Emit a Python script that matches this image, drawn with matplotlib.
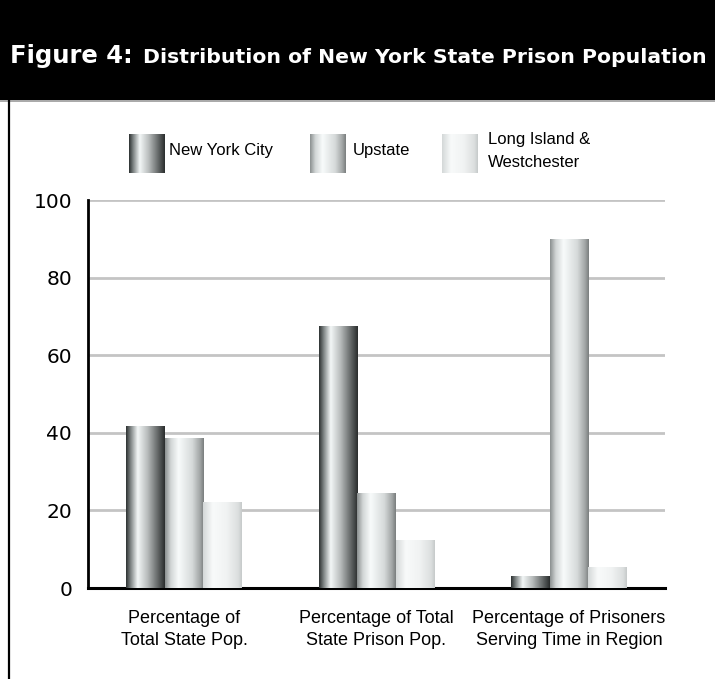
"""
Figure 4: distribution of the New York State prison population.
"""
import numpy as np
import matplotlib
matplotlib.use('Agg')
import matplotlib.pyplot as plt
from matplotlib.colors import LinearSegmentedColormap
from matplotlib.patches import Rectangle
from matplotlib.lines import Line2D

categories = ['Percentage of\nTotal State Pop.',
              'Percentage of Total\nState Prison Pop.',
              'Percentage of Prisoners\nServing Time in Region']
series = ['New York City', 'Upstate', 'Long Island &\nWestchester']
nyc = [41.8, 67.5, 3.2]
upstate = [38.7, 24.5, 90.0]
long_island = [22.2, 12.4, 5.5]
yticks = [0, 20, 40, 60, 80, 100]

# cylinder-like shading for each series, left edge -> right edge
shades = [
    [(0.0, '#2c3131'), (0.12, '#7f8585'), (0.3, '#f3f7f7'), (0.55, '#b9bdbd'),
     (0.8, '#696d6d'), (1.0, '#2a2d2d')],
    [(0.0, '#8a8f8f'), (0.15, '#d2d6d6'), (0.35, '#f8fbfb'), (0.7, '#d6dada'),
     (0.9, '#a2a6a6'), (1.0, '#7a7e7e')],
    [(0.0, '#d4d8d8'), (0.25, '#f8fafa'), (0.6, '#f1f3f3'), (0.9, '#dcdfdf'),
     (1.0, '#c6caca')],
]
cmaps = [LinearSegmentedColormap.from_list('s%d' % i, s) for i, s in enumerate(shades)]
grad = np.linspace(0, 1, 256).reshape(1, -1)

W, H = 715, 679
fig = plt.figure(figsize=(W / 100, H / 100), dpi=100)
plt.rcParams['font.family'] = ['Liberation Sans', 'DejaVu Sans']

# header band
fig.patches.append(Rectangle((0, 1 - 100 / H), 1, 100 / H, transform=fig.transFigure,
                             facecolor='black', edgecolor='none', zorder=0))
fig.lines.append(Line2D([0, 1], [1 - 101 / H] * 2, transform=fig.transFigure,
                        color='#9a9a9a', lw=1.2))
fig.lines.append(Line2D([9 / W, 9 / W], [0, 1 - 101 / H], transform=fig.transFigure,
                        color='black', lw=1.6))
fig.text(10 / W, 1 - 63 / H, 'Figure 4:', color='white', fontsize=17.5,
         fontweight='bold', va='baseline', ha='left', family='DejaVu Sans')
fig.text(143 / W, 1 - 63 / H, 'Distribution of New York State Prison Population',
         color='white', fontsize=14.7, fontweight='bold', va='baseline', ha='left',
         family='DejaVu Sans')

ax = fig.add_axes([88 / W, (H - 588) / H, (665 - 88) / W, (588 - 200) / H])
x = np.arange(len(categories))
width = 0.2
for i, vals in enumerate([nyc, upstate, long_island]):
    bars = ax.bar(x + (i - 1) * width, vals, width, color='none', zorder=3)
    for b in bars:
        x0, y0 = b.get_x(), b.get_y()
        im = ax.imshow(grad, cmap=cmaps[i], aspect='auto', zorder=3,
                       extent=(x0, x0 + b.get_width(), y0, y0 + b.get_height()))
        im.set_clip_path(b)

ax.set_xlim(-0.5, 2.5)
ax.set_ylim(0, 100)
ax.set_yticks(yticks)
ax.set_yticklabels([str(t) for t in yticks], family='DejaVu Sans')
ax.set_xticks(x)
ax.set_xticklabels(categories, fontsize=13, linespacing=1.4)
ax.tick_params(axis='y', length=0, labelsize=14.5, pad=11.5)
ax.tick_params(axis='x', length=0, pad=16)
ax.yaxis.grid(True, color='#c4c4c4', lw=2)
ax.set_axisbelow(True)
for s in ['top', 'right']:
    ax.spines[s].set_visible(False)
ax.spines['left'].set_linewidth(2)
ax.spines['bottom'].set_linewidth(2.2)

# legend swatches
swatch_x = [129, 310, 442]
text_x = [169, 353, 488]
for i in range(3):
    sax = fig.add_axes([swatch_x[i] / W, (H - 173) / H, 36 / W, 39 / H])
    sax.imshow(grad, cmap=cmaps[i], aspect='auto')
    sax.axis('off')
    fig.text(text_x[i] / W, (H - 151) / H, series[i], fontsize=12, va='center',
             ha='left', linespacing=1.65)

plt.savefig('out.png', dpi=100)
